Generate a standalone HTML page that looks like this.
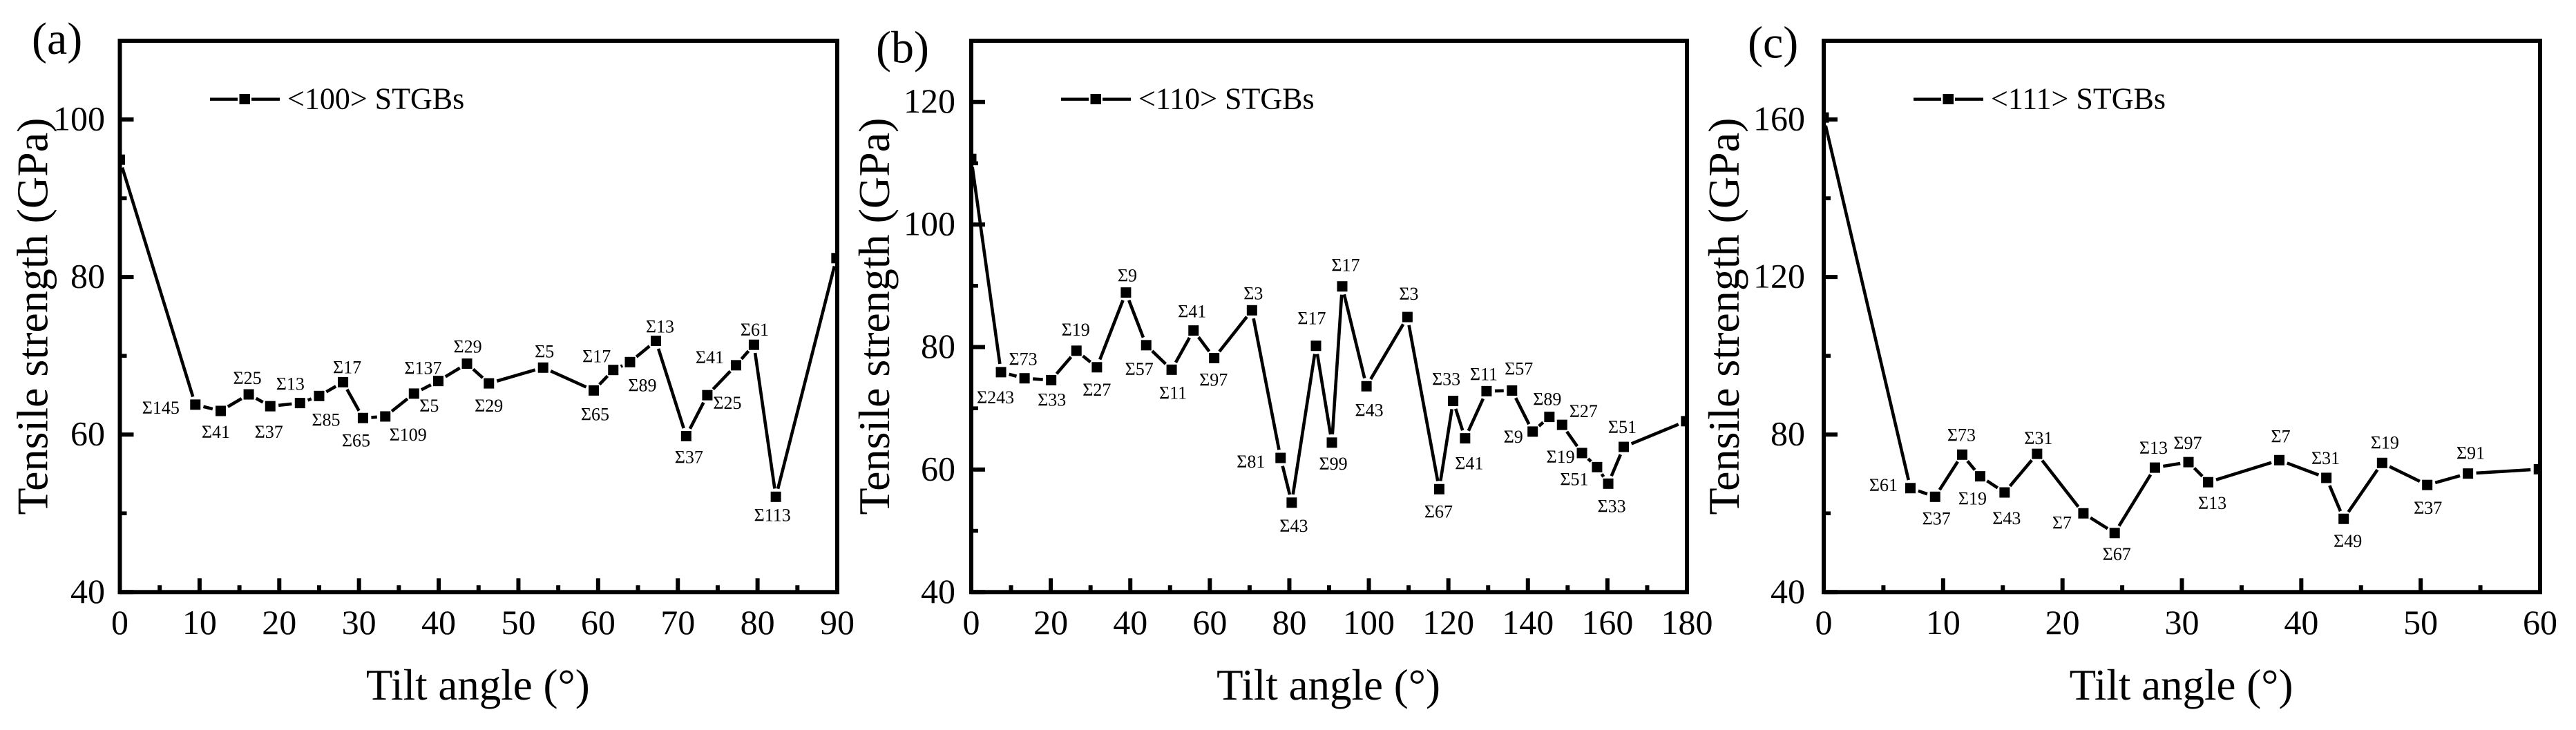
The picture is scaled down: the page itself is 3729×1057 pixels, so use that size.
<!DOCTYPE html>
<html lang="en">
<head>
<meta charset="utf-8">
<title>Tensile strength vs tilt angle</title>
<style>
html,body{margin:0;padding:0;background:#fff;}
svg{display:block;}
text{font-family:"Liberation Serif","Times New Roman",serif;fill:#000;}
</style>
</head>
<body>
<svg id="figure" xmlns="http://www.w3.org/2000/svg" width="3729" height="1057" viewBox="0 0 3729 1057">
<rect x="0" y="0" width="3729" height="1057" fill="#fff"/>
</svg>
<script>
// Panel (a): <100> STGBs
const aTilt = [0,9.47,12.65,16.17,18.87,22.6,25.0,28.0,30.5,33.3,36.9,39.95,43.55,46.3,53.1,59.45,61.9,64.0,67.25,71.05,73.7,77.3,79.55,82.3,89.9];
const aStrength = [94.9,63.8,63.0,65.1,63.6,64.0,64.9,66.65,62.1,62.3,65.2,66.8,69.0,66.5,68.5,65.6,68.2,69.2,71.9,59.8,65.0,68.8,71.4,52.1,82.4];
const aSigma = ["","Σ145","Σ41","Σ25","Σ37","Σ13","Σ85","Σ17","Σ65","Σ109","Σ5","Σ137","Σ29","Σ29","Σ5","Σ65","Σ17","Σ89","Σ13","Σ37","Σ25","Σ41","Σ61","Σ113",""];
const aXTicks = [0,10,20,30,40,50,60,70,80,90];
const aYTicks = [40,60,80,100];
const aXMinor = [5,15,25,35,45,55,65,75,85];
const aYMinor = [50,70,90];

// Panel (b): <110> STGBs
const bTilt = [0,7.48,13.4,20.1,26.45,31.6,38.9,44.0,50.4,55.9,61.1,70.6,77.8,80.6,86.7,90.7,93.3,99.4,109.7,117.7,121.2,124.2,129.6,136.0,141.2,145.4,148.6,153.6,157.4,160.2,164.1,179.8];
const bStrength = [110.7,75.9,74.9,74.6,79.4,76.7,88.9,80.3,76.3,82.7,78.2,86.0,61.9,54.6,80.2,64.4,89.9,73.6,84.9,56.8,71.2,65.1,72.8,72.9,66.2,68.6,67.3,62.7,60.4,57.7,63.7,67.9];
const bSigma = ["","Σ243","Σ73","Σ33","Σ19","Σ27","Σ9","Σ57","Σ11","Σ41","Σ97","Σ3","Σ81","Σ43","Σ17","Σ99","Σ17","Σ43","Σ3","Σ67","Σ33","Σ41","Σ11","Σ57","Σ9","Σ89","Σ27","Σ19","Σ51","Σ33","Σ51",""];
const bXTicks = [0,20,40,60,80,100,120,140,160,180];
const bYTicks = [40,60,80,100,120];
const bXMinor = [10,30,50,70,90,110,130,150,170];
const bYMinor = [50,70,90,110];

// Panel (c): <111> STGBs
const cTilt = [0,7.26,9.33,11.6,13.1,15.15,17.87,21.75,24.37,27.74,30.55,32.2,38.16,42.1,43.55,46.77,50.55,53.96,59.9];
const cStrength = [160.5,66.4,64.2,74.9,69.4,65.3,75.1,60.0,55.0,71.6,73.0,67.9,73.5,69.0,58.6,72.8,67.2,70.1,71.2];
const cSigma = ["","Σ61","Σ37","Σ73","Σ19","Σ43","Σ31","Σ7","Σ67","Σ13","Σ97","Σ13","Σ7","Σ31","Σ49","Σ19","Σ37","Σ91",""];
const cXTicks = [0,10,20,30,40,50,60];
const cYTicks = [40,80,120,160];
const cXMinor = [5,15,25,35,45,55];
const cYMinor = [60,100,140];

// Label placement relative to each marker (layout only, not data)
const aLabelShift = [[0,0],[-50,4],[-7,30],[-2,-24],[-2,37],[-14,-28],[10,34],[6,-22],[-10,32],[33,26],[22,17],[-22,-19],[1,-25],[0,32],[2,-24],[2,34],[-24,-20],[18,33],[6,-21],[4,30],[29,11],[-38,-12],[1,-22],[-5,26],[0,0]];
const bLabelShift = [[0,0],[-8,36],[-2,-28],[1,28],[-1,-31],[0,32],[2,-25],[-10,34],[2,33],[-2,-28],[-1,31],[2,-25],[-43,5],[3,33],[-6,-40],[2,30],[5,-31],[4,34],[2,-34],[-1,32],[-10,-32],[6,36],[-4,-25],[10,-32],[-28,7],[-3,-26],[31,-20],[-31,5],[-33,17],[5,32],[-2,-29],[0,0]];
const cLabelShift = [[0,0],[-39,-5],[2,31],[-1,-29],[-11,32],[3,37],[2,-23],[-31,13],[3,30],[-2,-29],[-1,-28],[6,30],[2,-35],[-1,-29],[6,32],[4,-30],[1,33],[4,-30],[0,0]];

const NS = 'http://www.w3.org/2000/svg';
const figure = document.getElementById('figure');
const TOP = 59, BOTTOM = 857.3, GAP = 12, MARKER = 15;

function svgEl(tag, parent, attrs) {
  const el = document.createElementNS(NS, tag);
  for (const k in attrs) el.setAttribute(k, attrs[k]);
  parent.appendChild(el);
  return el;
}

function drawPanel(p) {
  const sx = v => p.left + (v - p.xMin) / (p.xMax - p.xMin) * (p.right - p.left);
  const sy = v => BOTTOM - (v - p.yMin) / (p.yMax - p.yMin) * (BOTTOM - TOP);

  const g = svgEl('g', figure, {});
  
  

  const clip = svgEl('clipPath', g, {id: 'clip-' + p.id});
  svgEl('rect', clip, {x: p.left, y: TOP, width: p.right - p.left, height: BOTTOM - TOP});

  // line segments with a gap around each marker
  const lines = svgEl('g', g, {stroke: '#000', 'stroke-width': 4.6, fill: 'none'});
  
  
  for (let i = 0; i < p.tilt.length - 1; i++) {
    const x1 = sx(p.tilt[i]), y1 = sy(p.strength[i]);
    const x2 = sx(p.tilt[i + 1]), y2 = sy(p.strength[i + 1]);
    const len = Math.hypot(x2 - x1, y2 - y1);
    if (len <= 2 * GAP) continue;
    const ux = (x2 - x1) / len, uy = (y2 - y1) / len;
    const seg = svgEl('line', lines, {x1: x1 + ux * GAP, y1: y1 + uy * GAP, x2: x2 - ux * GAP, y2: y2 - uy * GAP});
    
    
  }

  // markers and sigma labels
  const marks = svgEl('g', g, {'clip-path': 'url(#clip-' + p.id + ')'});
  
  
  p.tilt.forEach((t, i) => {
    const cx = sx(t), cy = sy(p.strength[i]);
    const m = svgEl('rect', marks, {x: cx - MARKER / 2, y: cy - MARKER / 2, width: MARKER, height: MARKER, fill: '#000'});
    
    
    if (p.sigma[i]) {
      const lab = svgEl('text', g, {x: cx + p.shift[i][0], y: cy + p.shift[i][1] + 9, 'text-anchor': 'middle', 'font-size': 26});
      lab.textContent = p.sigma[i];
      
      
    }
  });

  // frame
  const frame = svgEl('rect', g, {x: p.left, y: TOP, width: p.right - p.left, height: BOTTOM - TOP, fill: 'none', stroke: '#000', 'stroke-width': 6});
  
  

  // x axis ticks
  p.xTicks.forEach(v => {
    const t = svgEl('line', g, {x1: sx(v), x2: sx(v), y1: BOTTOM, y2: BOTTOM - 20, stroke: '#000', 'stroke-width': 6});
    
    
    const lab = svgEl('text', g, {x: sx(v), y: 918, 'text-anchor': 'middle', 'font-size': 50});
    lab.textContent = v;
    
    
  });
  p.xMinor.forEach(v => {
    const t = svgEl('line', g, {x1: sx(v), x2: sx(v), y1: BOTTOM, y2: BOTTOM - 10, stroke: '#000', 'stroke-width': 6});
    
    
  });

  // y axis ticks
  p.yTicks.forEach(v => {
    const t = svgEl('line', g, {x1: p.left, x2: p.left + 20, y1: sy(v), y2: sy(v), stroke: '#000', 'stroke-width': 6});
    
    
    const lab = svgEl('text', g, {x: p.yLabelRight, y: sy(v) + 15.5, 'text-anchor': 'end', 'font-size': 50});
    lab.textContent = v;
    
    
  });
  p.yMinor.forEach(v => {
    const t = svgEl('line', g, {x1: p.left, x2: p.left + 10, y1: sy(v), y2: sy(v), stroke: '#000', 'stroke-width': 5.6});
    
    
  });

  // axis titles
  const xTitle = svgEl('text', g, {x: (p.left + p.right) / 2 - 1, y: 1013, 'text-anchor': 'middle', 'font-size': 63});
  xTitle.textContent = 'Tilt angle (°)';
  
  
  const yTitle = svgEl('text', g, {transform: 'translate(' + p.yTitleX + ',458) rotate(-90)', 'text-anchor': 'middle', 'font-size': 64});
  yTitle.textContent = 'Tensile strength (GPa)';
  
  

  // panel letter
  const letter = svgEl('text', g, {x: p.letterX, y: p.letterY, 'font-size': 66});
  letter.textContent = p.letter;
  
  

  // legend
  const lg = svgEl('g', g, {});
  
  
  svgEl('line', lg, {x1: p.legendX, x2: p.legendX + 40, y1: 143.7, y2: 143.7, stroke: '#000', 'stroke-width': 4.4});
  svgEl('line', lg, {x1: p.legendX + 60, x2: p.legendX + 101, y1: 143.7, y2: 143.7, stroke: '#000', 'stroke-width': 4.4});
  svgEl('rect', lg, {x: p.legendX + 42.5, y: 136, width: 15.5, height: 15, fill: '#000'});
  const lt = svgEl('text', lg, {x: p.legendX + 112, y: 157.5, 'font-size': 44});
  lt.textContent = p.legend;
  
  
}

drawPanel({id: 'a', letter: '(a)', legend: '<100> STGBs', left: 173.5, right: 1212, xMin: 0, xMax: 90, yMin: 40, yMax: 110,
  tilt: aTilt, strength: aStrength, sigma: aSigma, shift: aLabelShift, xTicks: aXTicks, yTicks: aYTicks, xMinor: aXMinor, yMinor: aYMinor,
  yLabelRight: 152, yTitleX: 68.5, letterX: 46, letterY: 78, legendX: 304});
drawPanel({id: 'b', letter: '(b)', legend: '<110> STGBs', left: 1406, right: 2442, xMin: 0, xMax: 180, yMin: 40, yMax: 130,
  tilt: bTilt, strength: bStrength, sigma: bSigma, shift: bLabelShift, xTicks: bXTicks, yTicks: bYTicks, xMinor: bXMinor, yMinor: bYMinor,
  yLabelRight: 1383, yTitleX: 1287, letterX: 1268, letterY: 90.5, legendX: 1536});
drawPanel({id: 'c', letter: '(c)', legend: '<111> STGBs', left: 2640, right: 3677, xMin: 0, xMax: 60, yMin: 40, yMax: 180,
  tilt: cTilt, strength: cStrength, sigma: cSigma, shift: cLabelShift, xTicks: cXTicks, yTicks: cYTicks, xMinor: cXMinor, yMinor: cYMinor,
  yLabelRight: 2613, yTitleX: 2517, letterX: 2530, letterY: 83.5, legendX: 2770});
</script>
</body>
</html>
